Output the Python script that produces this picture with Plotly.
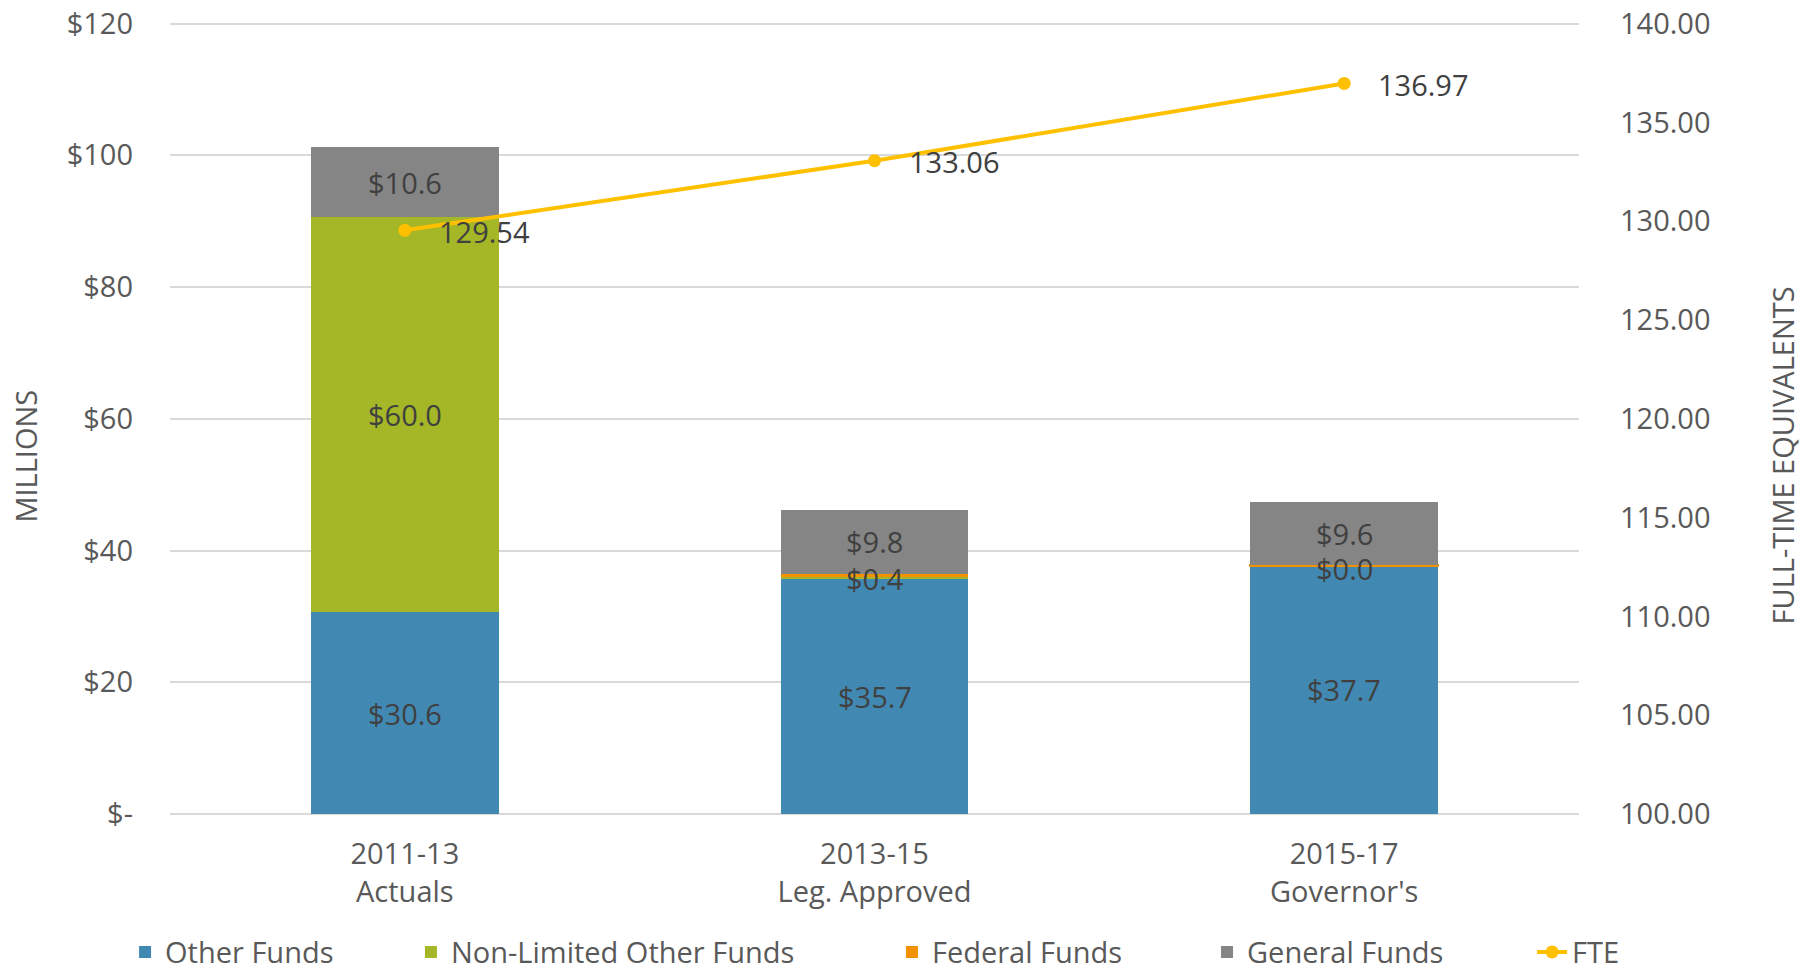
import plotly.graph_objects as go

# ---- data ----
periods = ["2011-13", "2013-15", "2015-17"]
period_desc = ["Actuals", "Leg. Approved", "Governor's"]
other_funds = [30.6, 35.7, 37.7]
non_limited_other_funds = [60.0, 0.3, 0.0]
federal_funds = [0.0, 0.4, 0.04]
general_funds = [10.6, 9.8, 9.6]
fte = [129.54, 133.06, 136.97]

# which segment labels are displayed in the reference
show_other = [True, True, True]
show_nonlimited = [True, False, False]
show_federal = [False, True, True]
show_general = [True, True, True]

left_ticks = [0, 20, 40, 60, 80, 100, 120]
left_ticktext = ["$-", "$20", "$40", "$60", "$80", "$100", "$120"]
right_ticks = [100, 105, 110, 115, 120, 125, 130, 135, 140]

# ---- styles ----
FONT = "Open Sans"
TICK_COLOR = "#595959"
LABEL_COLOR = "#404040"
FS = 29
C_OTHER = "#4189B3"
C_NONLIM = "#A5B727"
C_FED = "#F39200"
C_GEN = "#858585"
C_FTE = "#FFC000"

cats = [f"{p}<br>{d}" for p, d in zip(periods, period_desc)]

fig = go.Figure()
series = [
    ("Other Funds", other_funds, C_OTHER, show_other, "legend", [0, 0, 0]),
    ("Non-Limited Other Funds", non_limited_other_funds, C_NONLIM, show_nonlimited, "legend2", [0, 0, 0]),
    ("Federal Funds", federal_funds, C_FED, show_federal, "legend3", [0, 0, 2]),
    ("General Funds", general_funds, C_GEN, show_general, "legend4", [0, 0, 0]),
]
for name, vals, col, _, leg, lw in series:
    fig.add_trace(go.Bar(x=cats, y=vals, name=name, legend=leg,
                         marker=dict(color=col, line=dict(width=lw, color=col)),
                         yaxis="y"))

fig.add_trace(go.Scatter(x=cats, y=fte, name="FTE", yaxis="y2", mode="lines+markers",
                         legend="legend5",
                         line=dict(color=C_FTE, width=4),
                         marker=dict(color=C_FTE, size=13)))

# segment labels at segment midpoints
annotations = []
base = [0.0] * len(cats)
for name, vals, col, show, _, _ in series:
    for i, v in enumerate(vals):
        if show[i]:
            small = v < 1
            annotations.append(dict(x=cats[i], y=base[i] + v / 2, xref="x", yref="y",
                                    text=f"${v:.1f}", showarrow=False,
                                    yshift=-3 if small else 0,
                                    font=dict(family=FONT, size=FS, color=LABEL_COLOR)))
        base[i] += v

# FTE labels
for i, v in enumerate(fte):
    annotations.append(dict(x=cats[i], y=v, xref="x", yref="y2", text=f"{v:.2f}",
                            showarrow=False, xanchor="left", xshift=32, yshift=-1,
                            font=dict(family=FONT, size=FS, color=LABEL_COLOR)))

# axis titles
annotations.append(dict(x=-0.1026, y=0.449, xref="paper", yref="paper", text="MILLIONS",
                        textangle=-90, showarrow=False, xanchor="center", yanchor="middle",
                        font=dict(family=FONT, size=FS, color=TICK_COLOR)))
annotations.append(dict(x=1.1444, y=0.4505, xref="paper", yref="paper",
                        text="FULL-TIME EQUIVALENTS", textangle=-90, showarrow=False,
                        xanchor="center", yanchor="middle",
                        font=dict(family=FONT, size=FS, color=TICK_COLOR)))

LEG_Y = -0.1732
def leg(x):
    return dict(orientation="h", x=x, xanchor="left", y=LEG_Y, yanchor="middle",
                bgcolor="rgba(0,0,0,0)", borderwidth=0,
                font=dict(family=FONT, size=FS, color=TICK_COLOR))

fig.update_layout(
    width=1812, height=972,
    margin=dict(l=170, r=233, t=17, b=158, pad=0, autoexpand=False),
    paper_bgcolor="white", plot_bgcolor="white",
    barmode="stack", bargap=0.6,
    font=dict(family=FONT, size=FS, color=TICK_COLOR),
    xaxis=dict(showgrid=False, showline=False, zeroline=False, ticks="",
               tickfont=dict(family=FONT, size=FS, color=TICK_COLOR),
               ticklabelstandoff=20),
    yaxis=dict(range=[0, 121], tickvals=left_ticks, ticktext=left_ticktext,
               showgrid=True, gridcolor="#D9D9D9", gridwidth=2,
               zeroline=True, zerolinecolor="#D9D9D9", zerolinewidth=2,
               showline=False, ticks="", ticklabelstandoff=36,
               tickfont=dict(family=FONT, size=FS, color=TICK_COLOR)),
    yaxis2=dict(range=[100, 140 + 40 / 120], tickvals=right_ticks, tickformat=".2f",
                overlaying="y", side="right", showgrid=False, zeroline=False,
                showline=False, ticks="", ticklabelstandoff=40,
                tickfont=dict(family=FONT, size=FS, color=TICK_COLOR)),
    legend=leg(-0.0319),
    legend2=leg(0.1710),
    legend3=leg(0.5124),
    legend4=leg(0.7360),
    legend5=leg(0.9667),
    annotations=annotations,
    showlegend=True,
)

fig.write_html("out.html", config={"displayModeBar": False},
               post_script="document.body.style.margin='0';document.body.style.overflow='hidden';")
